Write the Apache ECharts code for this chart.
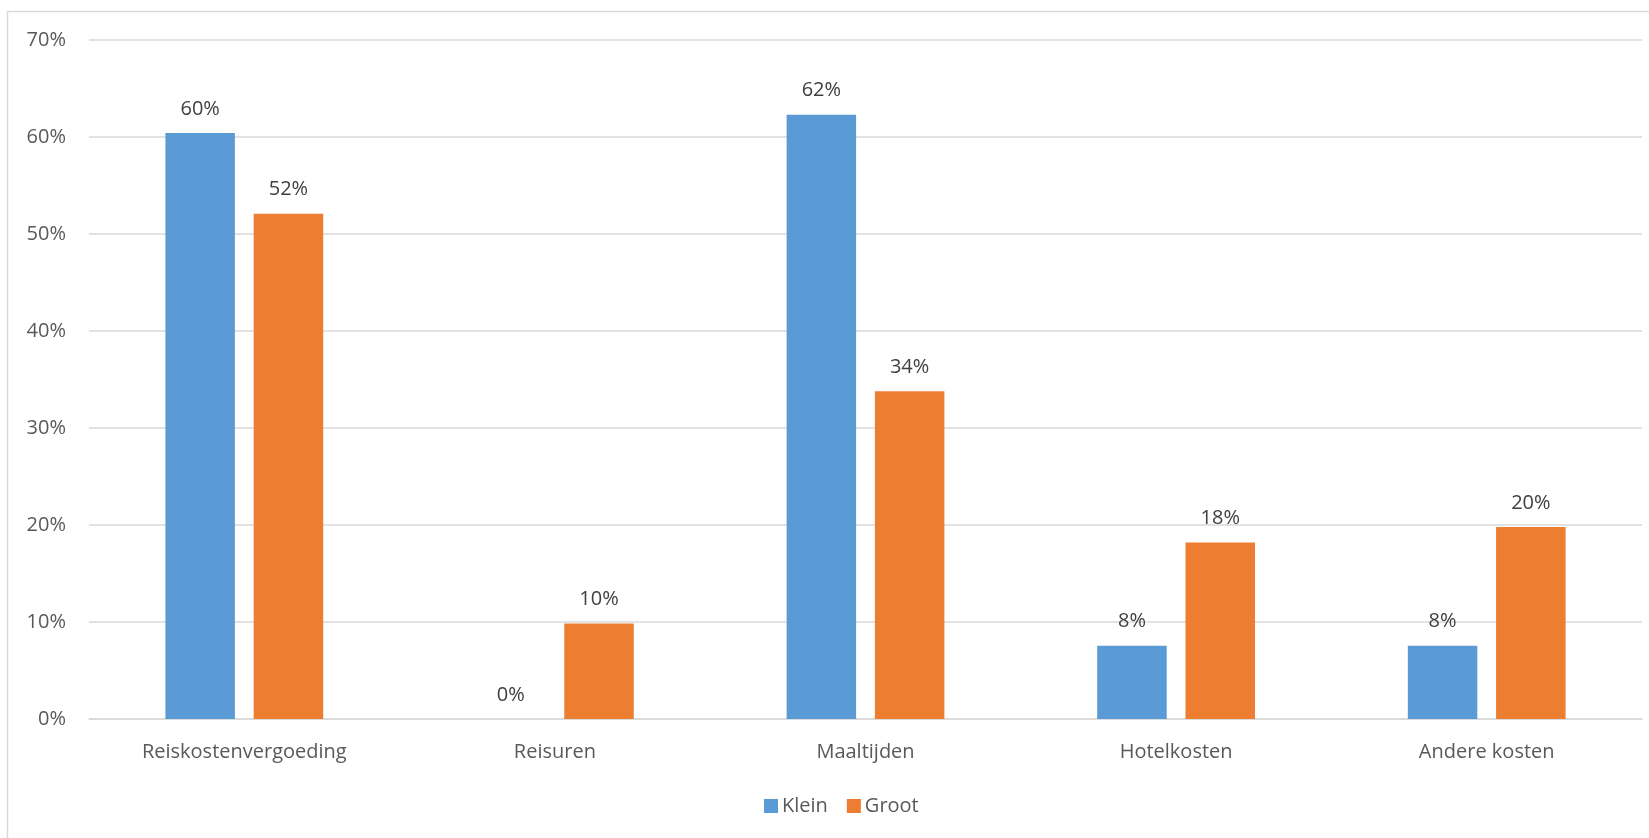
<!DOCTYPE html>
<html>
<head>
<meta charset="utf-8">
<script src="https://cdn.jsdelivr.net/npm/echarts@6/dist/echarts.min.js"></script>
<style>
  html, body { margin: 0; padding: 0; background: #ffffff; }
  #chart { width: 1649px; height: 838px; }
</style>
</head>
<body>
<div id="chart"></div>
<script>
// Expense categories and the share (in %) for small and large companies
const categories = ['Reiskostenvergoeding', 'Reisuren', 'Maaltijden', 'Hotelkosten', 'Andere kosten'];
const klein = [60.4, 0, 62.3, 7.55, 7.55];
const groot = [52.1, 9.85, 33.8, 18.2, 19.8];
const yTicks = [0, 10, 20, 30, 40, 50, 60, 70];

const FONT = 'Open Sans';
const FONT_SIZE = 20;
const AXIS_TEXT = '#595959';
const VALUE_TEXT = '#404040';

const chart = echarts.init(document.getElementById('chart'), null, { renderer: 'canvas' });

const valueLabel = {
  show: true,
  position: 'top',
  distance: 14,
  color: VALUE_TEXT,
  fontFamily: FONT,
  fontSize: FONT_SIZE,
  formatter: p => Math.round(p.value) + '%'
};

chart.setOption({
  animation: false,
  backgroundColor: '#ffffff',
  graphic: [{
    type: 'rect',
    shape: { x: 7.5, y: 11.5, width: 1700, height: 900 },
    style: { fill: 'none', stroke: '#d9d9d9', lineWidth: 1.5 },
    silent: true,
    z: -1
  }],
  grid: { left: 89, right: 7, top: 40, bottom: 119, containLabel: false },
  legend: {
    data: ['Klein', 'Groot'],
    left: 764,
    top: 796,
    padding: 0,
    icon: 'rect',
    itemWidth: 14,
    itemHeight: 14,
    itemGap: 19,
    textStyle: { color: AXIS_TEXT, fontFamily: FONT, fontSize: FONT_SIZE, padding: [0, 0, 0, -1] }
  },
  xAxis: {
    type: 'category',
    data: categories,
    axisLine: { show: true, lineStyle: { color: '#d9d9d9', width: 1.5 } },
    axisTick: { show: false },
    axisLabel: { color: AXIS_TEXT, fontFamily: FONT, fontSize: FONT_SIZE, margin: 23 }
  },
  yAxis: {
    type: 'value',
    min: yTicks[0],
    max: yTicks[yTicks.length - 1],
    interval: 10,
    axisLine: { show: false },
    axisTick: { show: false },
    splitLine: { lineStyle: { color: '#d9d9d9', width: 1.5 } },
    axisLabel: { color: AXIS_TEXT, fontFamily: FONT, fontSize: FONT_SIZE, margin: 23, formatter: '{value}%' }
  },
  series: [
    {
      name: 'Klein',
      type: 'bar',
      data: klein,
      barWidth: 69.5,
      barGap: '27%',
      itemStyle: { color: '#5b9bd5' },
      label: valueLabel
    },
    {
      name: 'Groot',
      type: 'bar',
      data: groot,
      barWidth: 69.5,
      itemStyle: { color: '#ed7d31' },
      label: valueLabel
    }
  ]
});
</script>
</body>
</html>
